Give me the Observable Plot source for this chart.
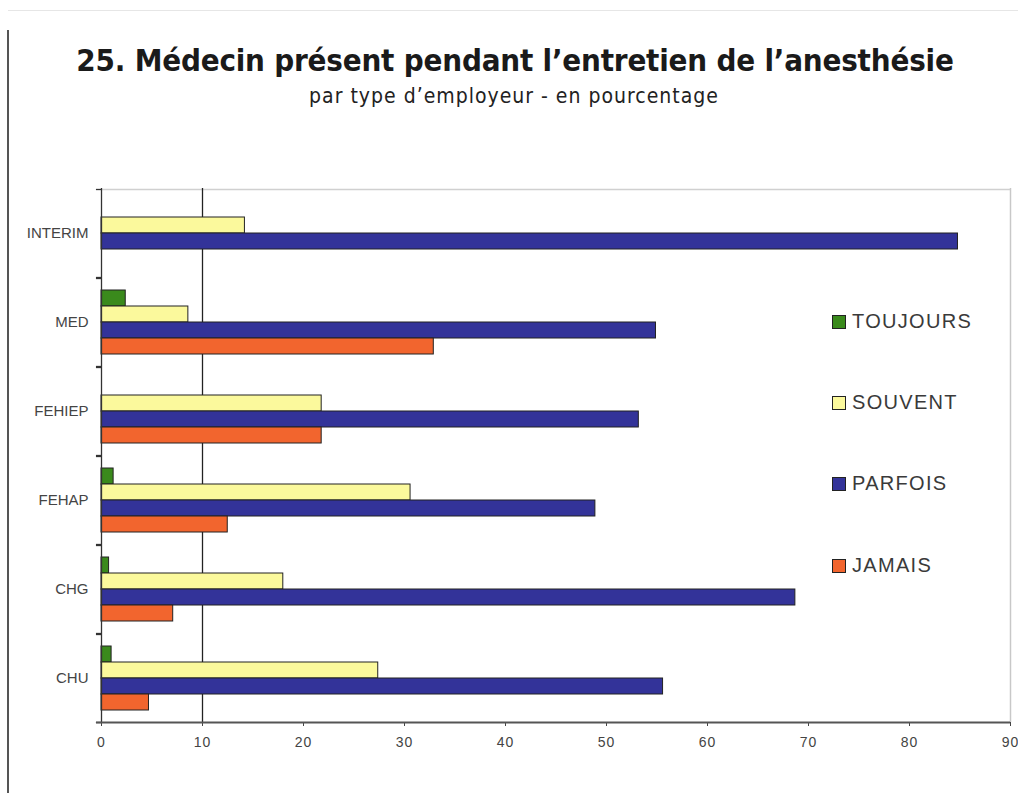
<!DOCTYPE html>
<html>
<head>
<meta charset="utf-8">
<script src="https://cdn.jsdelivr.net/npm/d3@7"></script>
<script src="https://cdn.jsdelivr.net/npm/@observablehq/plot@0.6"></script>
<style>
  html, body { margin: 0; padding: 0; background: #fff; }
  #page { position: relative; width: 1018px; height: 793px; overflow: hidden; font-family: "Liberation Sans", Arial, sans-serif; }
  #leftline { position: absolute; left: 7px; top: 30px; width: 2px; height: 763px; background: #555; }
  #topline { position: absolute; left: 8px; top: 10px; width: 1010px; height: 1px; background: #e6e6e6; }
  #head { position: relative; height: 150px; }
  #title { position: absolute; left: 0; width: 1030px; top: 42px; text-align: center; font-family: "Liberation Sans Narrow", "DejaVu Sans Condensed", sans-serif; font-weight: bold; font-size: 31px; color: #1a1a1a; letter-spacing: -0.2px; }
  #subtitle { position: absolute; left: 0; width: 1028px; top: 84px; text-align: center; font-family: "Liberation Sans Narrow", "DejaVu Sans Condensed", sans-serif; font-size: 21px; letter-spacing: 1px; color: #222; }
  #legend { position: absolute; left: 832px; top: 0; }
  .li { position: absolute; left: 0; white-space: nowrap; font-size: 20px; letter-spacing: 1.3px; color: #3a3a3a; line-height: 22px; }
  .sw { display: inline-block; box-sizing: border-box; width: 14px; height: 14px; border: 1px solid #222; margin-right: 6px; vertical-align: -1px; }
</style>
</head>
<body>
<div id="page">
  <div id="topline"></div>
  <div id="leftline"></div>
  <div id="head">
    <div id="title">25. Médecin présent pendant l’entretien de l’anesthésie</div>
    <div id="subtitle">par type d’employeur - en pourcentage</div>
  </div>
  <div id="chart"></div>
  <div id="legend"></div>
</div>
<script>
const categories = ["INTERIM", "MED", "FEHIEP", "FEHAP", "CHG", "CHU"];
const series = ["TOUJOURS", "SOUVENT", "PARFOIS", "JAMAIS"];
const colors = ["#3a8a1c", "#fbf99c", "#333399", "#f2652e"];
const toujours = [0, 2.4, 0, 1.2, 0.75, 1.0];
const souvent  = [14.2, 8.6, 21.8, 30.6, 18.0, 27.4];
const parfois  = [84.8, 54.9, 53.2, 48.9, 68.7, 55.6];
const jamais   = [0, 32.9, 21.8, 12.5, 7.1, 4.7];
const xTicks = [0, 10, 20, 30, 40, 50, 60, 70, 80, 90];

const valuesBySeries = [toujours, souvent, parfois, jamais];
const data = [];
categories.forEach((c, i) => {
  series.forEach((s, j) => {
    const v = valuesBySeries[j][i];
    if (v > 0) data.push({category: c, series: s, value: v});
  });
});

const bandOff = 20; // half-gap from outer bar centre to facet edge (px)

const chart = Plot.plot({
  width: 1018,
  height: 643,
  marginTop: 36,
  marginBottom: 70,
  marginLeft: 101,
  marginRight: 8,
  style: {fontFamily: "Liberation Sans, Arial, sans-serif", fontSize: "14px", color: "#444", background: "transparent", overflow: "visible"},
  x: {domain: [0, 90], ticks: xTicks, tickSize: 4, tickPadding: 11, label: null},
  y: {domain: series, paddingInner: 0, paddingOuter: 0.712, axis: null},
  fy: {domain: categories, padding: 0, label: null, tickSize: 0, tickPadding: 13},
  color: {domain: series, range: colors},
  marks: [
    // right frame border
    Plot.ruleX([90], {stroke: "#c8c8c8", strokeWidth: 1.5}),
    // top frame border
    Plot.ruleY([{category: "INTERIM", s: "TOUJOURS"}], {y: "s", fy: "category", x1: 0, x2: 90, dy: -bandOff, stroke: "#d0d0d0", strokeWidth: 1.5}),
    // gridline at 10
    Plot.ruleX([10], {stroke: "#222", strokeWidth: 1.3}),
    // category boundary ticks on left
    Plot.ruleY(["TOUJOURS"], {x1: -0.5, x2: 0, dy: -bandOff, stroke: "#333", strokeWidth: 1.3}),
    Plot.ruleY(["JAMAIS"], {x1: -0.5, x2: 0, dy: bandOff, stroke: "#333", strokeWidth: 1.3}),
    Plot.barX(data, {x: "value", y: "series", fy: "category", fill: "series", stroke: "#222", strokeWidth: 1}),
    // axis lines
    Plot.ruleX([0], {stroke: "#333", strokeWidth: 1.3}),
    Plot.ruleY([{category: "CHU", s: "JAMAIS"}], {y: "s", fy: "category", x1: -0.5, x2: 90, dy: bandOff, stroke: "#555", strokeWidth: 2})
  ]
});
document.getElementById("chart").appendChild(chart);

// style tick labels: wider x tick digits, larger category labels
d3.select(chart).selectAll("g[aria-label='x-axis'] text, g[aria-label='x-axis tick label'] text").attr("letter-spacing", "1px");
d3.select(chart).selectAll("g[aria-label='fy-axis'] text, g[aria-label='fy-axis tick label'] text").style("font-size", "15px");

const legend = document.getElementById("legend");
const legendY = [310, 391, 472, 554];
series.forEach((s, j) => {
  const row = document.createElement("div");
  row.className = "li";
  row.style.top = legendY[j] + "px";
  const sw = document.createElement("span");
  sw.className = "sw";
  sw.style.background = colors[j];
  row.appendChild(sw);
  row.appendChild(document.createTextNode(s));
  legend.appendChild(row);
});
</script>
</body>
</html>
